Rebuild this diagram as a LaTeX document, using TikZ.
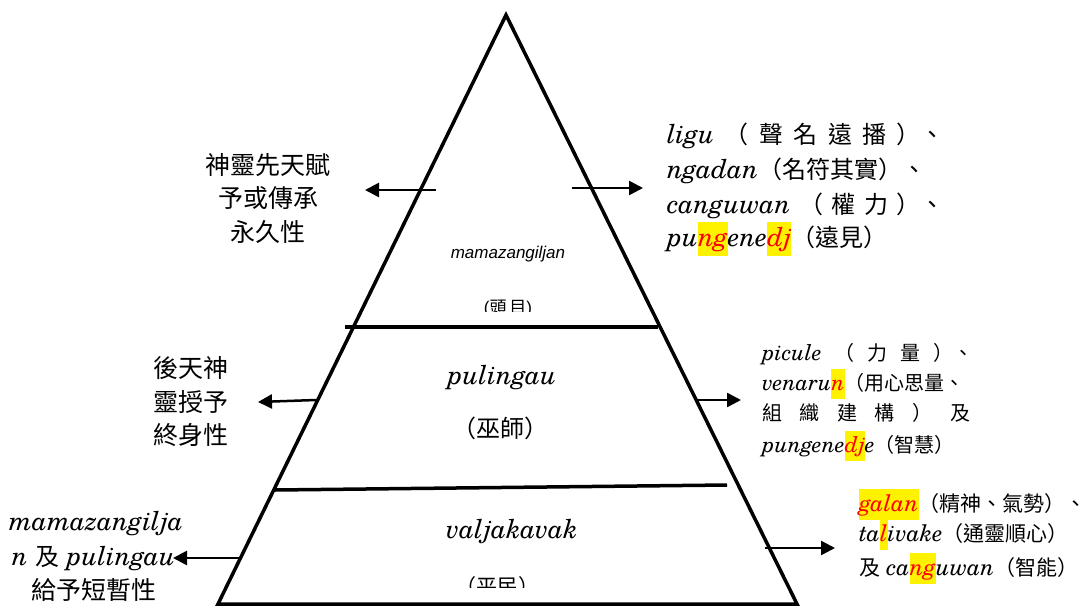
\documentclass[tikz,border=0pt]{standalone}
\usepackage{fontspec}
\usepackage{xcolor}
\setmainfont{TeX Gyre Schola}[Scale=1.09]
\newfontfamily\cjk{Noto Sans CJK TC}
\newfontfamily\arialf{Liberation Sans}
\usetikzlibrary{arrows.meta}
\newcommand{\zh}[1]{{\cjk #1}}
\newcommand{\hl}[1]{{\setlength{\fboxsep}{0pt}\colorbox{yellow}{\strut\color{red}#1}}}
\tikzset{
  tri/.style={line width=3.5pt, line join=miter},
  divline/.style={line width=3.5pt},
  arr/.style={line width=2.5pt, -{Triangle[length=14pt,width=14pt]}},
  lbl/.style={inner sep=0pt, outer sep=0pt},
  fA/.style={font=\fontsize{24}{34}\selectfont},
  fB/.style={font=\fontsize{20}{30}\selectfont},
  fC/.style={font=\fontsize{21}{31}\selectfont},
  fL/.style={font=\fontsize{25}{34}\selectfont},
}
\begin{document}
\begin{tikzpicture}[x=1pt,y=-1pt]
\useasboundingbox (0,0) rectangle (1079,608);
% pyramid
\coordinate (apex) at (506,15);
\coordinate (bl) at (218,604);
\coordinate (br) at (797,604);
\draw[tri] (apex) -- (bl) -- (br) -- cycle;
\coordinate (d1l) at (345,327);
\coordinate (d1r) at (658,327);
\coordinate (d2l) at (275,490);
\coordinate (d2r) at (727,485);
\draw[divline] (d1l) -- (d1r);
\draw[divline] (d2l) -- (d2r);

% inner labels
\node[lbl, anchor=base, font=\fontsize{17}{20}\selectfont\arialf\itshape] (chief) at (508,258) {mamazangiljan};
\begin{scope}
\clip (380,280) rectangle (640,311.5);
\node[lbl, anchor=base, font=\fontsize{17}{20}\selectfont\arialf] (chiefzh) at (508,313) {(\zh{頭}\,\zh{目})};
\end{scope}
\node[lbl, fA, anchor=base] (shaman) at (502,384) {\textit{pulingau}};
\node[lbl, fA, anchor=base] (shamanzh) at (500,437) {\zh{（巫師）}};
\node[lbl, fA, anchor=base] (common) at (512,538) {\textit{valjakavak}};
\begin{scope}
\clip (380,560) rectangle (640,587);
\node[lbl, fC, anchor=base] (commonzh) at (497,594) {\zh{（平民）}};
\end{scope}

% left labels
\node[lbl, fL, anchor=base] (tl1) at (268,174) {\zh{神靈先天賦}};
\node[lbl, fL, anchor=base] (tl2) at (268,207) {\zh{予或傳承}};
\node[lbl, fL, anchor=base] (tl3) at (268,241) {\zh{永久性}};

\node[lbl, fL, anchor=base west] (ml1) at (153,377) {\zh{後天神}};
\node[lbl, fL, anchor=base west] (ml2) at (153,411) {\zh{靈授予}};
\node[lbl, fL, anchor=base west] (ml3) at (153,444) {\zh{終身性}};

\node[lbl, fA, anchor=base] (bl1) at (96,530) {\textit{mamazangilja}};
\node[lbl, fA, anchor=base west] (bl2) at (12,565) {\textit{n} \zh{及} \textit{pulingau}};
\node[lbl, fL, anchor=base] (bl3) at (94,599) {\zh{給予短暫性}};

% right labels top
\node[lbl, fA, anchor=base west] (tr1) at (667,143) {\hbox to 278pt{\textit{ligu}\hfill\zh{（}\hfill\zh{聲}\hfill\zh{名}\hfill\zh{遠}\hfill\zh{播}\hfill\zh{）、}}};
\node[lbl, fA, anchor=base west] (tr2) at (667,178) {\textit{ngadan}\zh{（名符其實）、}};
\node[lbl, fA, anchor=base west] (tr3) at (667,213) {\hbox to 278pt{\textit{canguwan}\hfill\zh{（}\hfill\zh{權}\hfill\zh{力}\hfill\zh{）、}}};
\node[lbl, fA, anchor=base west] (tr4) at (667,246) {\textit{pu\hl{ng}ene\hl{dj}}\zh{（遠見）}};

% right labels middle
\node[lbl, fB, anchor=base west] (mr1) at (762,360) {\hbox to 211pt{\textit{picule}\hfill\zh{（}\hfill\zh{力}\hfill\zh{量}\hfill\zh{）、}}};
\node[lbl, fB, anchor=base west] (mr2) at (762,390) {\textit{venaru\hl{n}}\zh{（用心思量、}};
\node[lbl, fB, anchor=base west] (mr3) at (762,420) {\hbox to 208pt{\zh{組}\hfill\zh{織}\hfill\zh{建}\hfill\zh{構}\hfill\zh{）}\hfill\zh{及}}};
\node[lbl, fB, anchor=base west] (mr4) at (762,452) {\textit{pungene\hl{dj}e}\zh{（智慧）}};

% right labels bottom
\node[lbl, fC, anchor=base west] (brr1) at (859,511) {\textit{\hl{galan}}\zh{（精神、氣勢）}\rlap{\zh{、}}};
\node[lbl, fC, anchor=base west] (brr2) at (859,541) {\textit{ta\hl{l}ivake}\zh{（通靈順心）}};
\node[lbl, fC, anchor=base west] (brr3) at (859,575) {\zh{及} \textit{ca\hl{ng}uwan}\zh{（智能）}};

% arrows
\coordinate (a1s) at (436,190); \coordinate (a1e) at (365,190);
\coordinate (a2s) at (572,188); \coordinate (a2e) at (643,188);
\coordinate (a3s) at (316,400); \coordinate (a3e) at (258,402);
\coordinate (a4s) at (695,400); \coordinate (a4e) at (741,400);
\coordinate (a5s) at (240,558); \coordinate (a5e) at (173,558);
\coordinate (a6s) at (765,548); \coordinate (a6e) at (835,548);
\draw[arr] (a1s) -- (a1e);
\draw[arr] (a2s) -- (a2e);
\draw[arr] (a3s) -- (a3e);
\draw[arr] (a4s) -- (a4e);
\draw[arr] (a5s) -- (a5e);
\draw[arr] (a6s) -- (a6e);
\end{tikzpicture}
\end{document}
